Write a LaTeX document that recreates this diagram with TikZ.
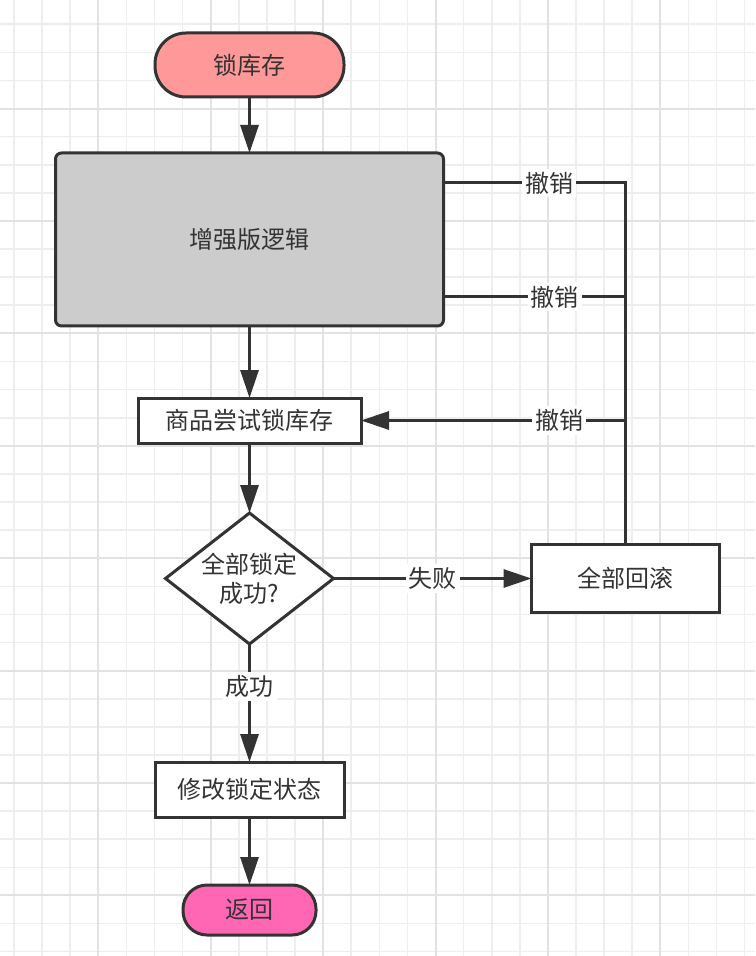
\documentclass[tikz,border=0pt]{standalone}
\usepackage{fontspec}
\setmainfont{Noto Sans CJK SC}
\usepackage{tikz}
\usetikzlibrary{shapes.geometric,arrows.meta,positioning,calc}
\usepackage{xcolor}
\definecolor{lockred}{RGB}{255,153,153}
\definecolor{returnpink}{RGB}{255,102,179}
\definecolor{logicgray}{RGB}{204,204,204}
\definecolor{inkgray}{RGB}{51,51,51}
\definecolor{gridgray}{RGB}{238,238,238}
\definecolor{gridgraydark}{RGB}{226,226,226}

\begin{document}
\begin{tikzpicture}[
  x=0.5pt, y=-0.5pt,
  every node/.style={font=\fontsize{12}{14.5}\selectfont, text=inkgray, align=center},
  box/.style={draw=inkgray, line width=1.5pt, inner sep=0pt, outer sep=0pt},
  term/.style={box, rounded corners=12pt},
  conn/.style={draw=inkgray, line width=1.5pt},
  arr/.style={conn, -{Triangle[length=14pt, width=9pt]}},
  lbl/.style={fill=white, inner sep=1.5pt},
  gridline/.style={draw=gridgray, line width=0.8pt},
  gridbold/.style={draw=gridgraydark, line width=1pt}
]
\useasboundingbox (0,0) rectangle (755,956);
\fill[white] (0,0) rectangle (755,956);

% background grid
\foreach \k in {0,...,26} \draw[gridline] ({14+28.1*\k},0) -- ({14+28.1*\k},956);
\foreach \k in {0,...,33} \draw[gridline] (0,{24.3+28.1*\k}) -- (755,{24.3+28.1*\k});
\foreach \k in {3,7,...,23} \draw[gridbold] ({14+28.1*\k},0) -- ({14+28.1*\k},956);
\foreach \k in {3,7,...,31} \draw[gridbold] (0,{24.3+28.1*\k}) -- (755,{24.3+28.1*\k});

\node[term, rounded corners=15.5pt, fill=lockred, minimum width=94.5pt, minimum height=32pt] (lock) at (249.5,65) {锁库存};
\node[box, rounded corners=3pt, fill=logicgray, minimum width=194pt, minimum height=86.5pt, below=28pt of lock] (logic) {增强版逻辑};
\node[box, fill=white, minimum width=111.5pt, minimum height=22.5pt, below=36pt of logic] (trylock) {商品尝试锁库存};
\node[box, diamond, aspect=1.3, fill=white, minimum width=84pt, minimum height=65.5pt, below=35pt of trylock] (check) {全部锁定\\成功?};
\node[box, fill=white, minimum width=94pt, minimum height=34pt, right=99pt of check] (rollback) {全部回滚};
\node[box, fill=white, minimum width=94.5pt, minimum height=27.5pt, below=59pt of check] (modify) {修改锁定状态};
\node[term, fill=returnpink, minimum width=66.5pt, minimum height=25pt, below=34pt of modify] (ret) {返回};

\draw[arr] (lock) -- (logic);
\draw[arr] (logic) -- (trylock);
\draw[arr] (trylock) -- (check);
\draw[arr] (check) -- node[lbl] {失败} (rollback);
\draw[arr] (check) -- node[lbl, pos=0.36] {成功} (modify);
\draw[arr] (modify) -- (ret);

% rollback undoes the earlier steps
\coordinate (undo1) at (rollback.north |- 0,183);
\coordinate (undo2) at (rollback.north |- 0,297);
\coordinate (undo3) at (trylock.east -| rollback.north);
\draw[conn] (rollback.north) -- (undo1) -- node[lbl, pos=0.42] {撤销} (logic.east |- undo1);
\draw[conn] (undo2) -- node[lbl, pos=0.39] {撤销} (logic.east |- undo2);
\draw[arr] (undo3) -- node[lbl, pos=0.25] {撤销} (trylock.east);
\end{tikzpicture}
\end{document}
